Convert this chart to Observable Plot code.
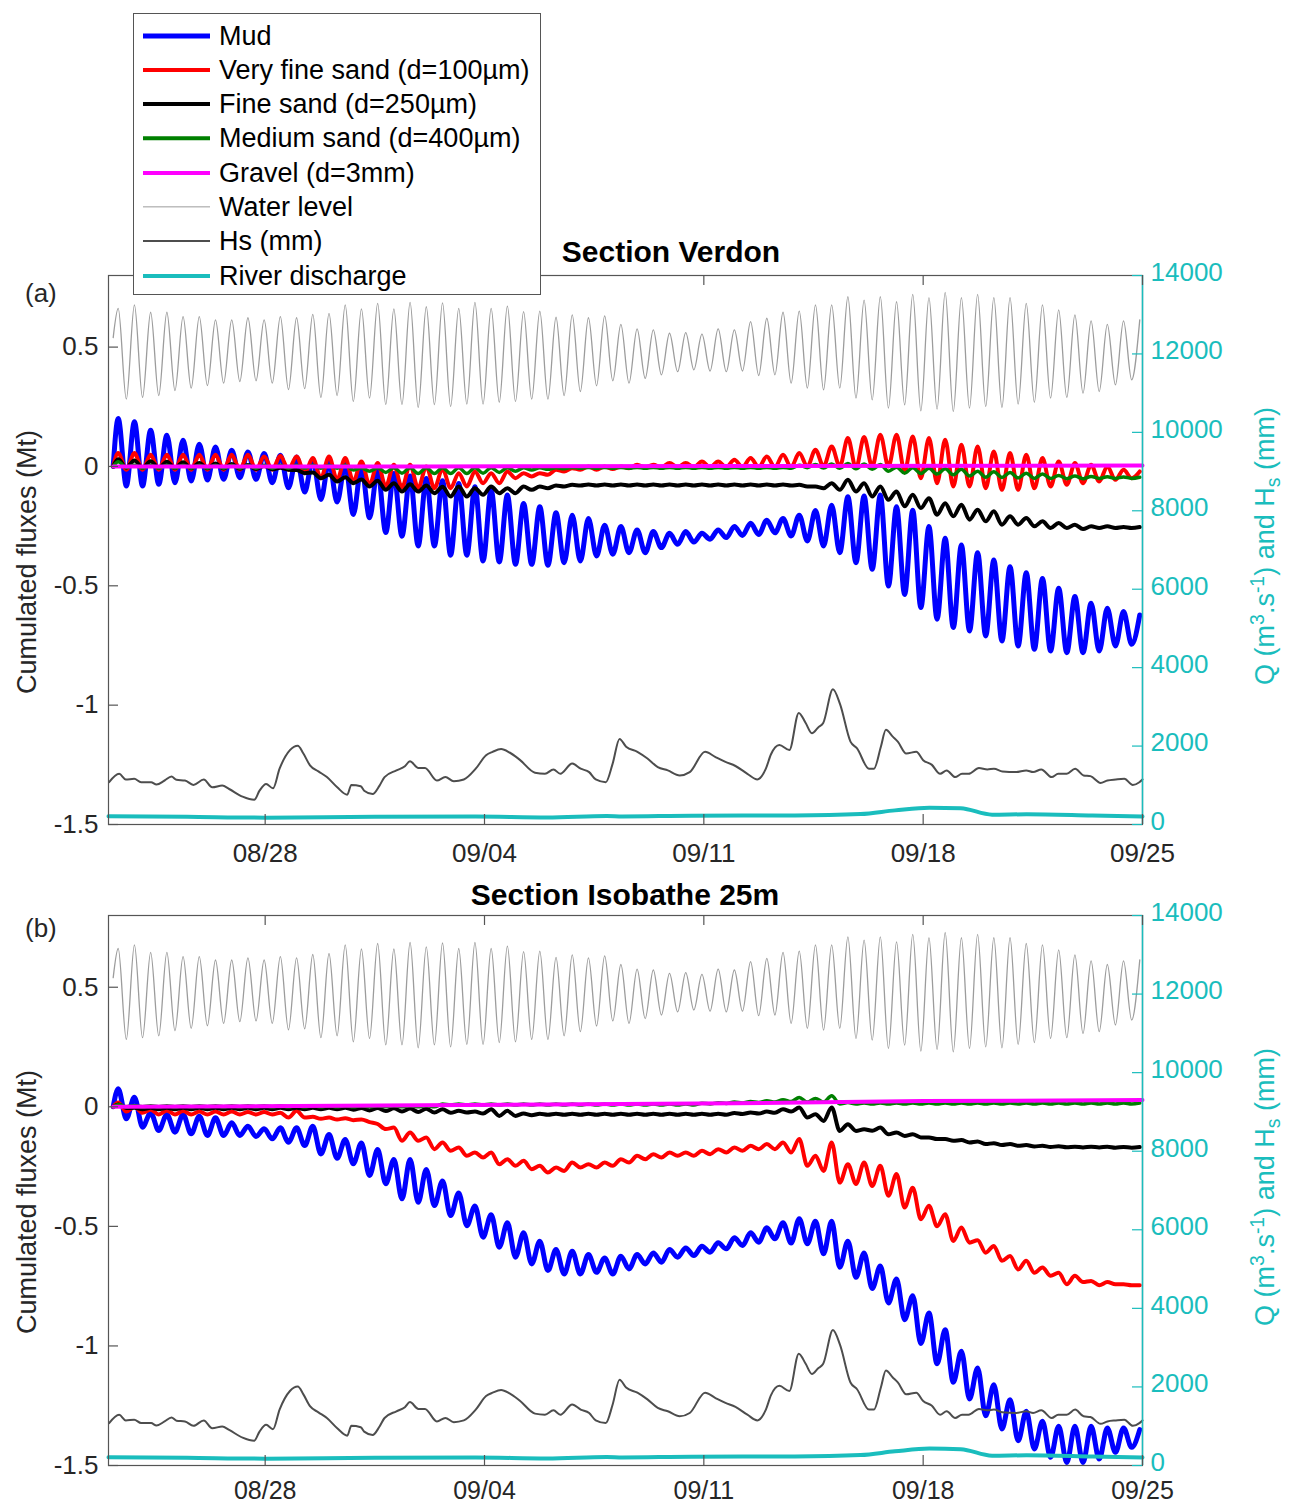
<!DOCTYPE html>
<html><head><meta charset="utf-8">
<script src="https://cdn.jsdelivr.net/npm/d3@7"></script>
<script src="https://cdn.jsdelivr.net/npm/@observablehq/plot@0.6"></script>
<style>
body{margin:0;background:#fff;}
#root{position:relative;width:1289px;height:1506px;overflow:hidden;background:#fff;font-family:"Liberation Sans",Arial,Helvetica,sans-serif;color:#262626;}
.abs{position:absolute;white-space:nowrap;line-height:1;}
.title{font-weight:bold;font-size:30px;transform:translate(-50%,-50%);color:#000;}
.ylab{font-size:27px;transform:translate(-50%,-50%) rotate(-90deg);}
.rlab{font-size:27px;color:#1ABDBD;transform:translate(-50%,-50%) rotate(-90deg);}
.rlab sup,.rlab sub{font-size:0.72em;}
.letter{font-size:26px;transform:translateY(-50%);}
#legend{position:absolute;left:133px;top:13px;width:406px;height:280px;border:1.5px solid #555;background:#fff;z-index:5;}
.lrow{position:absolute;left:0;width:400px;height:30px;font-size:27px;line-height:30px;color:#000;}
.lsw{position:absolute;left:9px;width:67px;top:50%;transform:translateY(-50%);}
.ltx{position:absolute;left:85px;top:0;white-space:nowrap;}
.pl{position:absolute;left:0;}
</style></head>
<body>
<div id="root">
  <div id="pa" class="pl" style="top:240px"></div>
  <div id="pb" class="pl" style="top:880px"></div>
  <div class="abs title" style="left:671px;top:252px">Section Verdon</div>
  <div class="abs title" style="left:625px;top:895px">Section Isobathe 25m</div>
  <div class="abs letter" style="left:25px;top:293px">(a)</div>
  <div class="abs letter" style="left:25px;top:928px">(b)</div>
  <div class="abs ylab" style="left:27px;top:562px">Cumulated fluxes (Mt)</div>
  <div class="abs ylab" style="left:27px;top:1202px">Cumulated fluxes (Mt)</div>
  <div class="abs rlab" style="left:1266px;top:546px">Q (m<sup>3</sup>.s<sup>-1</sup>) and H<sub>s</sub> (mm)</div>
  <div class="abs rlab" style="left:1266px;top:1187px">Q (m<sup>3</sup>.s<sup>-1</sup>) and H<sub>s</sub> (mm)</div>
  <div id="legend"></div>
</div>
<script>
// ---------------- DATA ----------------
// time in days after 08/23 00:00 ; tidal extrema alternate high/low every half M2 cycle
const tideStart = 0.31;      // time of first tidal high (days)
const halfTide = 0.25875;    // half M2 period (days)
const seriesStart = 0.15;    // first sample of cumulated fluxes

const xTickLabels = ["08/28","09/04","09/11","09/18","09/25"];
const xTickDays = [5, 12, 19, 26, 33];
const leftTicks = [-1.5, -1, -0.5, 0, 0.5];
const rightTicks = [0, 2000, 4000, 6000, 8000, 10000, 12000, 14000];

const legendLabels = ["Mud","Very fine sand (d=100µm)","Fine sand (d=250µm)","Medium sand (d=400µm)","Gravel (d=3mm)","Water level","Hs (mm)","River discharge"];

// Water level (same in both panels)
const waterHigh = [0.662,0.677,0.646,0.646,0.628,0.628,0.614,0.614,0.623,0.614,
0.628,0.623,0.637,0.641,0.677,0.660,0.683,0.660,0.687,0.669,
0.685,0.662,0.687,0.662,0.672,0.649,0.651,0.625,0.635,0.623,
0.631,0.595,0.576,0.572,0.558,0.561,0.554,0.576,0.572,0.607,
0.621,0.646,0.651,0.677,0.677,0.711,0.697,0.711,0.690,0.721,
0.707,0.729,0.707,0.721,0.707,0.707,0.683,0.677,0.656,0.635,
0.610,0.595,0.610,0.614];
const waterLow = [0.282,0.289,0.297,0.318,0.328,0.339,0.349,0.356,0.359,0.349,
0.322,0.326,0.289,0.297,0.272,0.286,0.259,0.259,0.247,0.259,
0.251,0.261,0.261,0.269,0.272,0.282,0.282,0.297,0.314,0.338,
0.359,0.349,0.369,0.384,0.397,0.405,0.400,0.397,0.400,0.381,
0.384,0.349,0.328,0.321,0.328,0.286,0.279,0.244,0.258,0.233,
0.240,0.230,0.244,0.251,0.247,0.261,0.269,0.286,0.289,0.307,
0.314,0.342,0.363];
const waterStart = 0.54;

// Panel (a) Section Verdon
const mudAHigh = [0.201,0.187,0.152,0.131,0.110,0.093,0.082,0.068,0.061,0.054,
0.047,0.040,0.030,0.020,0.010,0.000,-0.015,-0.030,-0.040,-0.050,
-0.060,-0.071,-0.085,-0.099,-0.120,-0.155,-0.169,-0.194,-0.204,-0.218,
-0.246,-0.252,-0.266,-0.273,-0.280,-0.273,-0.280,-0.266,-0.252,-0.238,
-0.225,-0.218,-0.204,-0.185,-0.162,-0.127,-0.124,-0.120,-0.169,-0.183,
-0.252,-0.301,-0.329,-0.361,-0.392,-0.420,-0.445,-0.469,-0.510,-0.545,
-0.573,-0.594,-0.608,-0.622];
const mudALow = [-0.082,-0.082,-0.075,-0.068,-0.061,-0.057,-0.054,-0.047,-0.054,-0.068,
-0.089,-0.107,-0.138,-0.149,-0.201,-0.215,-0.277,-0.292,-0.333,-0.333,
-0.372,-0.372,-0.396,-0.400,-0.410,-0.410,-0.414,-0.403,-0.396,-0.375,
-0.368,-0.361,-0.361,-0.340,-0.326,-0.317,-0.305,-0.298,-0.289,-0.285,
-0.278,-0.291,-0.312,-0.333,-0.361,-0.403,-0.431,-0.501,-0.536,-0.591,
-0.640,-0.675,-0.689,-0.710,-0.731,-0.752,-0.766,-0.773,-0.780,-0.780,
-0.773,-0.752,-0.745];
const vfsAHigh = [0.056,0.056,0.049,0.049,0.049,0.049,0.049,0.049,0.049,0.042,
0.045,0.042,0.035,0.042,0.035,0.021,0.014,0.007,0.007,0.000,
-0.010,-0.028,-0.021,-0.028,-0.021,-0.028,-0.028,-0.014,-0.007,0.000,
0.000,0.000,0.007,0.007,0.014,0.014,0.021,0.021,0.028,0.035,
0.042,0.049,0.056,0.070,0.084,0.119,0.123,0.133,0.133,0.126,
0.119,0.112,0.091,0.084,0.063,0.056,0.049,0.035,0.021,0.014,
0.007,0.000,-0.014,-0.021];
const vfsALow = [-0.014,-0.014,-0.014,-0.014,-0.014,-0.014,-0.014,-0.014,-0.014,-0.014,
-0.014,-0.028,-0.049,-0.056,-0.063,-0.077,-0.084,-0.088,-0.091,-0.091,
-0.091,-0.084,-0.070,-0.070,-0.049,-0.042,-0.035,-0.021,-0.014,-0.014,
-0.011,-0.007,-0.004,-0.003,-0.003,-0.003,-0.003,-0.003,-0.003,-0.003,
-0.003,-0.003,0.000,0.000,0.000,-0.007,0.000,0.000,-0.021,-0.049,
-0.070,-0.084,-0.084,-0.091,-0.098,-0.098,-0.091,-0.084,-0.077,-0.070,
-0.063,-0.056,-0.049];
const fsAHigh = [0.030,0.025,0.022,0.020,0.018,0.015,0.012,0.010,0.006,0.002,
-0.005,-0.015,-0.025,-0.035,-0.045,-0.055,-0.060,-0.070,-0.075,-0.080,
-0.085,-0.084,-0.091,-0.084,-0.091,-0.084,-0.084,-0.080,-0.077,-0.076,
-0.076,-0.076,-0.076,-0.076,-0.076,-0.076,-0.076,-0.076,-0.076,-0.076,
-0.076,-0.076,-0.077,-0.084,-0.070,-0.056,-0.070,-0.084,-0.105,-0.119,
-0.133,-0.154,-0.160,-0.181,-0.188,-0.209,-0.216,-0.230,-0.237,-0.244,
-0.251,-0.251,-0.254,-0.254];
const fsALow = [-0.005,-0.006,-0.006,-0.007,-0.008,-0.008,-0.009,-0.010,-0.011,-0.012,
-0.014,-0.028,-0.049,-0.063,-0.070,-0.084,-0.098,-0.105,-0.105,-0.112,
-0.126,-0.126,-0.119,-0.112,-0.112,-0.098,-0.091,-0.084,-0.080,-0.080,
-0.080,-0.080,-0.080,-0.080,-0.080,-0.080,-0.080,-0.080,-0.080,-0.080,
-0.080,-0.080,-0.084,-0.091,-0.098,-0.105,-0.126,-0.140,-0.167,-0.174,
-0.202,-0.209,-0.223,-0.230,-0.244,-0.244,-0.251,-0.258,-0.258,-0.262,
-0.258,-0.258,-0.258];
const msAHigh = [0.020,0.005,0.005,0.005,0.005,0.005,0.005,0.005,0.005,0.005,
0.005,0.005,0.005,0.005,0.005,-0.005,-0.005,-0.005,-0.005,-0.005,
-0.005,-0.005,-0.005,-0.005,-0.005,-0.005,-0.005,-0.005,-0.004,-0.004,
-0.004,-0.004,-0.004,-0.004,-0.004,-0.004,-0.004,-0.004,-0.004,-0.004,
-0.004,-0.004,0.005,0.008,0.010,0.012,0.010,0.008,-0.003,-0.005,
-0.008,-0.010,-0.012,-0.020,-0.022,-0.025,-0.028,-0.032,-0.038,-0.040,
-0.042,-0.043,-0.044,-0.045];
const msALow = [-0.005,-0.008,-0.008,-0.008,-0.008,-0.008,-0.008,-0.008,-0.008,-0.008,
-0.008,-0.008,-0.008,-0.008,-0.015,-0.020,-0.025,-0.028,-0.030,-0.030,
-0.030,-0.030,-0.028,-0.025,-0.020,-0.015,-0.012,-0.010,-0.008,-0.008,
-0.008,-0.008,-0.008,-0.008,-0.008,-0.008,-0.008,-0.008,-0.008,-0.008,
-0.008,-0.008,-0.005,-0.006,-0.008,-0.010,-0.012,-0.020,-0.028,-0.030,
-0.032,-0.035,-0.040,-0.045,-0.046,-0.048,-0.050,-0.050,-0.051,-0.051,
-0.050,-0.050,-0.050];
const gravelATime = [0.15, 10, 20, 33];
const gravelAValue = [0, 0, 0.002, 0.004];

// Panel (b) Section Isobathe 25m
const mudBHigh = [0.075,0.040,-0.025,-0.032,-0.032,-0.039,-0.046,-0.067,-0.081,-0.092,
-0.088,-0.088,-0.081,-0.116,-0.137,-0.151,-0.179,-0.220,-0.220,-0.262,
-0.310,-0.360,-0.415,-0.451,-0.485,-0.527,-0.562,-0.597,-0.604,-0.618,
-0.632,-0.625,-0.618,-0.611,-0.597,-0.590,-0.583,-0.569,-0.548,-0.527,
-0.506,-0.485,-0.468,-0.479,-0.479,-0.562,-0.611,-0.666,-0.720,-0.790,
-0.862,-0.932,-1.022,-1.092,-1.162,-1.225,-1.273,-1.315,-1.336,-1.336,
-1.336,-1.343,-1.343,-1.350];
const mudBLow = [-0.050,-0.085,-0.099,-0.106,-0.113,-0.120,-0.120,-0.120,-0.124,-0.134,
-0.148,-0.162,-0.197,-0.215,-0.238,-0.287,-0.322,-0.385,-0.399,-0.413,
-0.455,-0.497,-0.545,-0.587,-0.629,-0.657,-0.685,-0.699,-0.699,-0.692,
-0.699,-0.678,-0.657,-0.650,-0.629,-0.622,-0.608,-0.594,-0.580,-0.566,
-0.552,-0.570,-0.573,-0.615,-0.671,-0.713,-0.760,-0.820,-0.890,-0.990,
-1.075,-1.152,-1.222,-1.292,-1.347,-1.396,-1.431,-1.466,-1.487,-1.487,
-1.473,-1.445,-1.424];
const vfsBHigh = [0.018,0.000,-0.012,-0.015,-0.018,-0.020,-0.020,-0.020,-0.022,-0.022,
-0.025,-0.017,-0.042,-0.045,-0.048,-0.053,-0.072,-0.087,-0.107,-0.128,
-0.149,-0.170,-0.191,-0.191,-0.219,-0.226,-0.247,-0.254,-0.233,-0.240,
-0.233,-0.219,-0.205,-0.198,-0.191,-0.191,-0.184,-0.177,-0.170,-0.163,
-0.156,-0.149,-0.135,-0.205,-0.149,-0.240,-0.233,-0.247,-0.281,-0.338,
-0.414,-0.449,-0.505,-0.558,-0.582,-0.624,-0.644,-0.672,-0.694,-0.707,
-0.728,-0.733,-0.742,-0.746];
const vfsBLow = [-0.020,-0.025,-0.032,-0.032,-0.032,-0.032,-0.032,-0.032,-0.032,-0.032,
-0.045,-0.045,-0.050,-0.053,-0.056,-0.064,-0.093,-0.142,-0.142,-0.177,
-0.184,-0.205,-0.212,-0.240,-0.247,-0.261,-0.275,-0.268,-0.254,-0.254,
-0.247,-0.233,-0.219,-0.212,-0.205,-0.205,-0.198,-0.191,-0.184,-0.177,
-0.177,-0.191,-0.247,-0.268,-0.317,-0.323,-0.331,-0.372,-0.421,-0.470,
-0.500,-0.561,-0.568,-0.610,-0.644,-0.680,-0.694,-0.707,-0.742,-0.733,
-0.746,-0.742,-0.746];
const fsBHigh = [0.010,-0.004,-0.004,-0.004,-0.004,-0.004,-0.004,-0.004,-0.004,-0.004,
-0.004,-0.004,-0.004,-0.004,-0.004,-0.005,-0.005,-0.006,-0.007,-0.008,
-0.010,-0.017,-0.020,-0.010,-0.017,-0.028,-0.029,-0.029,-0.029,-0.029,
-0.029,-0.029,-0.029,-0.029,-0.029,-0.029,-0.029,-0.029,-0.026,-0.024,
-0.020,-0.010,-0.003,-0.031,-0.003,-0.073,-0.094,-0.087,-0.107,-0.115,
-0.128,-0.135,-0.139,-0.145,-0.152,-0.156,-0.160,-0.163,-0.165,-0.167,
-0.167,-0.167,-0.168,-0.168];
const fsBLow = [-0.005,-0.010,-0.010,-0.010,-0.010,-0.010,-0.010,-0.010,-0.010,-0.010,
-0.010,-0.010,-0.010,-0.010,-0.012,-0.015,-0.018,-0.020,-0.022,-0.024,
-0.025,-0.024,-0.028,-0.038,-0.038,-0.035,-0.033,-0.033,-0.033,-0.033,
-0.033,-0.033,-0.033,-0.033,-0.033,-0.033,-0.033,-0.033,-0.030,-0.028,
-0.025,-0.020,-0.045,-0.059,-0.101,-0.101,-0.100,-0.115,-0.122,-0.128,
-0.135,-0.142,-0.149,-0.156,-0.160,-0.163,-0.166,-0.168,-0.169,-0.170,
-0.170,-0.171,-0.171];
const msBHigh = [0.010,0.004,0.004,0.004,0.004,0.004,0.004,0.004,0.004,0.004,
0.004,0.004,0.004,0.004,0.004,0.004,0.004,0.004,0.004,0.004,
0.012,0.012,0.012,0.012,0.012,0.012,0.012,0.012,0.012,0.012,
0.012,0.012,0.012,0.012,0.012,0.012,0.015,0.017,0.020,0.022,
0.025,0.030,0.039,0.035,0.046,0.018,0.016,0.016,0.016,0.016,
0.016,0.016,0.016,0.016,0.016,0.016,0.016,0.016,0.016,0.016,
0.016,0.016,0.016,0.016];
const msBLow = [0.000,0.000,0.000,0.000,0.000,0.000,0.000,0.000,0.000,0.000,
0.000,0.000,0.000,0.000,0.000,0.000,0.000,0.000,0.000,0.000,
0.008,0.008,0.008,0.008,0.008,0.008,0.008,0.008,0.008,0.008,
0.008,0.008,0.008,0.008,0.008,0.008,0.012,0.014,0.016,0.018,
0.020,0.022,0.020,0.020,0.012,0.012,0.012,0.012,0.012,0.012,
0.012,0.012,0.012,0.012,0.012,0.012,0.012,0.012,0.012,0.012,
0.012,0.012,0.012];
const gravelBTime = [0.15, 10, 20, 26, 33];
const gravelBValue = [0, 0.006, 0.015, 0.024, 0.028];

// Significant wave height Hs (mm), same in both panels
const hsTime = [0.02,0.34,0.55,0.82,1.04,1.36,1.53,1.79,2.01,2.17,
2.44,2.71,3.04,3.31,3.63,3.85,4.28,4.65,4.82,5.03,
5.25,5.46,5.79,6.04,6.22,6.43,6.70,6.97,7.30,7.62,
7.75,8.05,8.16,8.43,8.65,8.81,9.19,9.46,9.62,9.89,
10.10,10.48,10.75,11.02,11.34,11.72,12.05,12.26,12.53,12.80,
13.12,13.61,13.93,14.20,14.42,14.80,15.07,15.34,15.55,15.87,
16.09,16.31,16.52,16.88,17.20,17.53,17.85,18.23,18.55,19.04,
19.36,19.69,20.01,20.39,20.71,20.98,21.14,21.41,21.73,22.03,
22.25,22.45,22.65,22.81,23.12,23.35,23.68,23.89,24.27,24.43,
24.65,24.81,25.03,25.19,25.46,25.78,26.00,26.27,26.54,26.75,
27.02,27.24,27.45,27.78,28.05,28.26,28.53,28.96,29.29,29.51,
29.77,30.10,30.31,30.58,30.85,31.12,31.34,31.66,31.88,32.15,
32.42,32.69,32.90,33.00];
const hsValue = [1079,1293,1148,1165,1079,1079,1017,1122,1224,1140,
1122,1010,1148,949,992,905,709,630,862,1035,
923,1423,1897,2009,1811,1510,1354,1209,949,760,
1010,974,862,778,992,1209,1380,1484,1614,1441,
1441,1122,1209,1104,1148,1423,1767,1854,1923,1836,
1655,1321,1293,1405,1293,1553,1423,1336,1148,1079,
1553,2183,1984,1854,1683,1466,1380,1252,1336,1854,
1724,1596,1492,1293,1148,1423,1785,2027,1897,2846,
2588,2328,2476,2588,3450,3063,2114,1941,1423,1423,
1984,2415,2241,2114,1811,1854,1640,1527,1293,1380,
1209,1293,1293,1441,1405,1423,1354,1336,1380,1336,
1405,1209,1293,1293,1423,1252,1234,1061,1122,1148,
1165,1010,1079,1148];

// River discharge Q (m3/s), same in both panels
const riverTime = [0, 2.5, 5.0, 8.5, 11.7, 14.0, 15.9, 16.4, 18.6, 21.9, 24.0, 25.1, 26.2, 27.2, 28.2, 29.3, 31.4, 33.0];
const riverValue = [210, 195, 175, 200, 205, 180, 215, 205, 225, 230, 265, 360, 430, 415, 250, 260, 230, 205];

// ---------------- HELPERS ----------------
const teal = "#1ABDBD";
const X0 = Date.UTC(2018, 7, 23);
const toDate = t => new Date(X0 + t * 864e5);
const toLeft = q => q / 14000 * 2.3 - 1.5;       // right axis units -> left axis units
const fromLeft = v => (v + 1.5) / 2.3 * 14000;

function tide(high, low, startValue) {
  const pts = [{date: toDate(seriesStart), v: startValue}];
  for (let k = 0; k < high.length; k++) {
    pts.push({date: toDate(tideStart + 2 * k * halfTide), v: high[k]});
    if (k < low.length) pts.push({date: toDate(tideStart + (2 * k + 1) * halfTide), v: low[k]});
  }
  return pts;
}
const pairs = (ts, vs, f = v => v) => ts.map((t, i) => ({date: toDate(t), v: f(vs[i])}));

const water = tide(waterHigh, waterLow, waterStart);
const hs = pairs(hsTime, hsValue, toLeft);
const river = pairs(riverTime, riverValue, toLeft);
const xTicks = xTickDays.map(toDate);
const xLabel = new Map(xTickDays.map((d, i) => [+toDate(d), xTickLabels[i]]));
const rightTicksLeft = rightTicks.map(toLeft);

const styles = {
  mud:   {stroke: "#0000FF", strokeWidth: 5},
  vfs:   {stroke: "#FF0000", strokeWidth: 4},
  fs:    {stroke: "#000000", strokeWidth: 4},
  ms:    {stroke: "#008000", strokeWidth: 3.5},
  gravel:{stroke: "#FF00FF", strokeWidth: 4},
  water: {stroke: "#9c9c9c", strokeWidth: 1.3},
  hs:    {stroke: "#4d4d4d", strokeWidth: 2},
  river: {stroke: teal, strokeWidth: 4}
};

function panel(S, height, marginBottom, xPad, xFont) {
  const marginTop = 35, marginLeft = 108, marginRight = 147, width = 1289;
  const plotW = width - marginLeft - marginRight;
  const plotH = height - marginTop - marginBottom;
  const L = (data, st) => Plot.line(data, {x: "date", y: "v", curve: "monotone-x", strokeLinejoin: "round", strokeLinecap: "round", ...st});
  return Plot.plot({
    width, height, marginTop, marginBottom, marginLeft, marginRight,
    x: {type: "utc", domain: [toDate(0), toDate(33)]},
    y: {domain: [-1.5, 0.8]},
    style: {fontFamily: "'Liberation Sans', Arial, Helvetica, sans-serif", fontSize: "26px", color: "#262626", background: "transparent", overflow: "visible"},
    marks: [
      L(S.mud, styles.mud),
      L(S.vfs, styles.vfs),
      L(S.fs, styles.fs),
      L(S.ms, styles.ms),
      Plot.line(S.gravel, {x: "date", y: "v", ...styles.gravel}),
      L(water, styles.water),
      L(hs, styles.hs),
      L(river, styles.river),
      Plot.frame({stroke: "#555", strokeWidth: 1.2}),
      Plot.ruleX([toDate(33)], {stroke: teal, strokeWidth: 1.5}),
      Plot.tickX(xTicks, {x: d => d, stroke: "#555", strokeWidth: 1.2, insetTop: plotH - 10}),
      Plot.tickX(xTicks, {x: d => d, stroke: "#555", strokeWidth: 1.2, insetBottom: plotH - 10}),
      Plot.tickY(leftTicks, {y: d => d, stroke: "#555", strokeWidth: 1.2, insetRight: plotW - 10}),
      Plot.tickY(rightTicksLeft, {y: d => d, stroke: teal, strokeWidth: 1.2, insetLeft: plotW - 10}),
      Plot.axisX({anchor: "bottom", ticks: xTicks, tickFormat: d => xLabel.get(+d), tickSize: 0, tickPadding: xPad, fontSize: xFont, label: null}),
      Plot.axisY({anchor: "left", ticks: leftTicks, tickFormat: d => String(d).replace("\u2212", "-"), tickSize: 0, tickPadding: 10, label: null}),
      Plot.axisY({anchor: "right", ticks: rightTicksLeft, tickFormat: d => String(Math.round(fromLeft(d))), tickSize: 0, tickPadding: 8, dy: -3, color: teal, label: null})
    ]
  });
}

const A = {
  mud: tide(mudAHigh, mudALow, 0), vfs: tide(vfsAHigh, vfsALow, 0),
  fs: tide(fsAHigh, fsALow, 0), ms: tide(msAHigh, msALow, 0),
  gravel: pairs(gravelATime, gravelAValue)
};
const B = {
  mud: tide(mudBHigh, mudBLow, 0), vfs: tide(vfsBHigh, vfsBLow, 0),
  fs: tide(fsBHigh, fsBLow, 0), ms: tide(msBHigh, msBLow, 0),
  gravel: pairs(gravelBTime, gravelBValue)
};

document.getElementById("pa").appendChild(panel(A, 640, 56, 19, 26));
document.getElementById("pb").appendChild(panel(B, 626, 41, 16, 25));

// legend
const legendStyles = [styles.mud, styles.vfs, styles.fs, styles.ms, styles.gravel, styles.water, styles.hs, styles.river];
const leg = document.getElementById("legend");
legendLabels.forEach((lab, i) => {
  const row = document.createElement("div");
  row.className = "lrow";
  row.style.top = (21.5 + i * 34.3 - 15) + "px";
  const sw = document.createElement("div");
  sw.className = "lsw";
  sw.style.height = legendStyles[i].strokeWidth + "px";
  sw.style.background = legendStyles[i].stroke;
  const tx = document.createElement("div");
  tx.className = "ltx";
  tx.textContent = lab;
  row.appendChild(sw); row.appendChild(tx);
  leg.appendChild(row);
});
</script>
</body></html>
